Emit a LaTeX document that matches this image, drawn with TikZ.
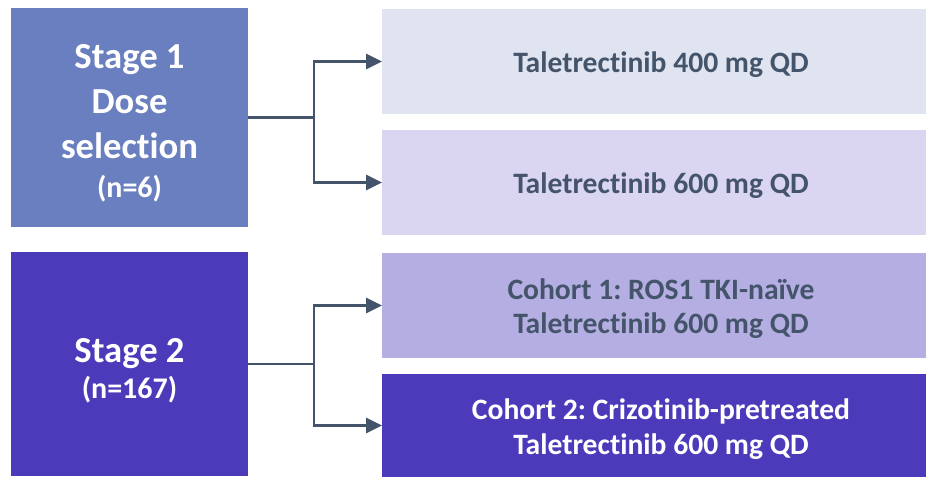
\documentclass[tikz,border=0pt]{standalone}
\usepackage{xcolor}
\usepackage{tikz}
\usepackage{fontspec}
\setmainfont{Carlito}[Ligatures=NoCommon]
\frenchspacing
\definecolor{stageone}{RGB}{106, 127, 192}
\definecolor{stagetwo}{RGB}{75, 59, 187}
\definecolor{armlight}{RGB}{224, 228, 241}
\definecolor{armlilac}{RGB}{218, 213, 241}
\definecolor{armmid}{RGB}{181, 174, 227}
\definecolor{slate}{RGB}{68, 84, 106}
\usetikzlibrary{arrows.meta, positioning, calc}

\begin{document}
\begin{tikzpicture}[
    x=0.75pt, y=-0.75pt,
    stage/.style={rectangle, inner sep=0pt, outer sep=0pt, minimum width=177.75pt},
    stagetext/.style={text=white, align=center, inner sep=0pt, font=\fontsize{27.5}{33.75}\selectfont\bfseries},
    arm/.style={rectangle, inner sep=0pt, outer sep=0pt, minimum width=408pt, minimum height=78.75pt},
    armtext/.style={text=slate, align=center, inner sep=0pt, font=\fontsize{22.2}{26}\selectfont\bfseries},
    link/.style={draw=slate, line width=1.6pt},
    branch/.style={link, -{Triangle[length=12pt, width=11.5pt]}}
]
    \useasboundingbox (0,0) rectangle (926,477);

    \node[stage, fill=stageone, minimum height=164.25pt] (stage1) at (129.5, 117.5) {};
    \node[stagetext] (ts1) at ($(stage1.center)+(0,6)$) {Stage 1\\Dose\\selection\\[-4.5pt]{\fontsize{22.5}{27}\selectfont(n=6)}};
    \node[stage, fill=stagetwo, minimum height=168pt] (stage2) at (129.5, 364) {};
    \node[stagetext] (ts2) at ($(stage2.center)+(0,6.5)$) {Stage 2\\[-6.75pt]{\fontsize{22.5}{27}\selectfont(n=167)}};

    \node[arm, fill=armlight] (arm400) at (654, 61.5) {};
    \node[armtext] (t400) at ($(arm400.center)+(7,3)$) {Taletrectinib 400 mg QD};
    \node[arm, fill=armlilac] (arm600) at (654, 182.5) {};
    \node[armtext] (t600) at ($(arm600.center)+(7,3)$) {Taletrectinib 600 mg QD};
    \node[arm, fill=armmid] (cohort1) at (654, 305.5) {};
    \node[armtext] (tc1) at ($(cohort1.center)+(7,3)$) {Cohort 1: ROS1 TKI-naïve\\Taletrectinib 600 mg QD};
    \node[arm, fill=stagetwo, minimum height=77.25pt] (cohort2) at (654, 425.5) {};
    \node[armtext, text=white] (tc2) at ($(cohort2.center)+(7,3.5)$) {Cohort 2: Crizotinib-pretreated\\Taletrectinib 600 mg QD};

    \coordinate (split1) at ($(stage1.east)+(66,0)$);
    \coordinate (split2) at ($(stage2.east)+(66,0)$);

    \draw[link] (stage1.east) -- (split1);
    \draw[branch] (split1) |- (arm400.west);
    \draw[branch] (split1) |- (arm600.west);

    \draw[link] (stage2.east) -- (split2);
    \draw[branch] (split2) |- (cohort1.west);
    \draw[branch] (split2) |- (cohort2.west);

\end{tikzpicture}
\end{document}
